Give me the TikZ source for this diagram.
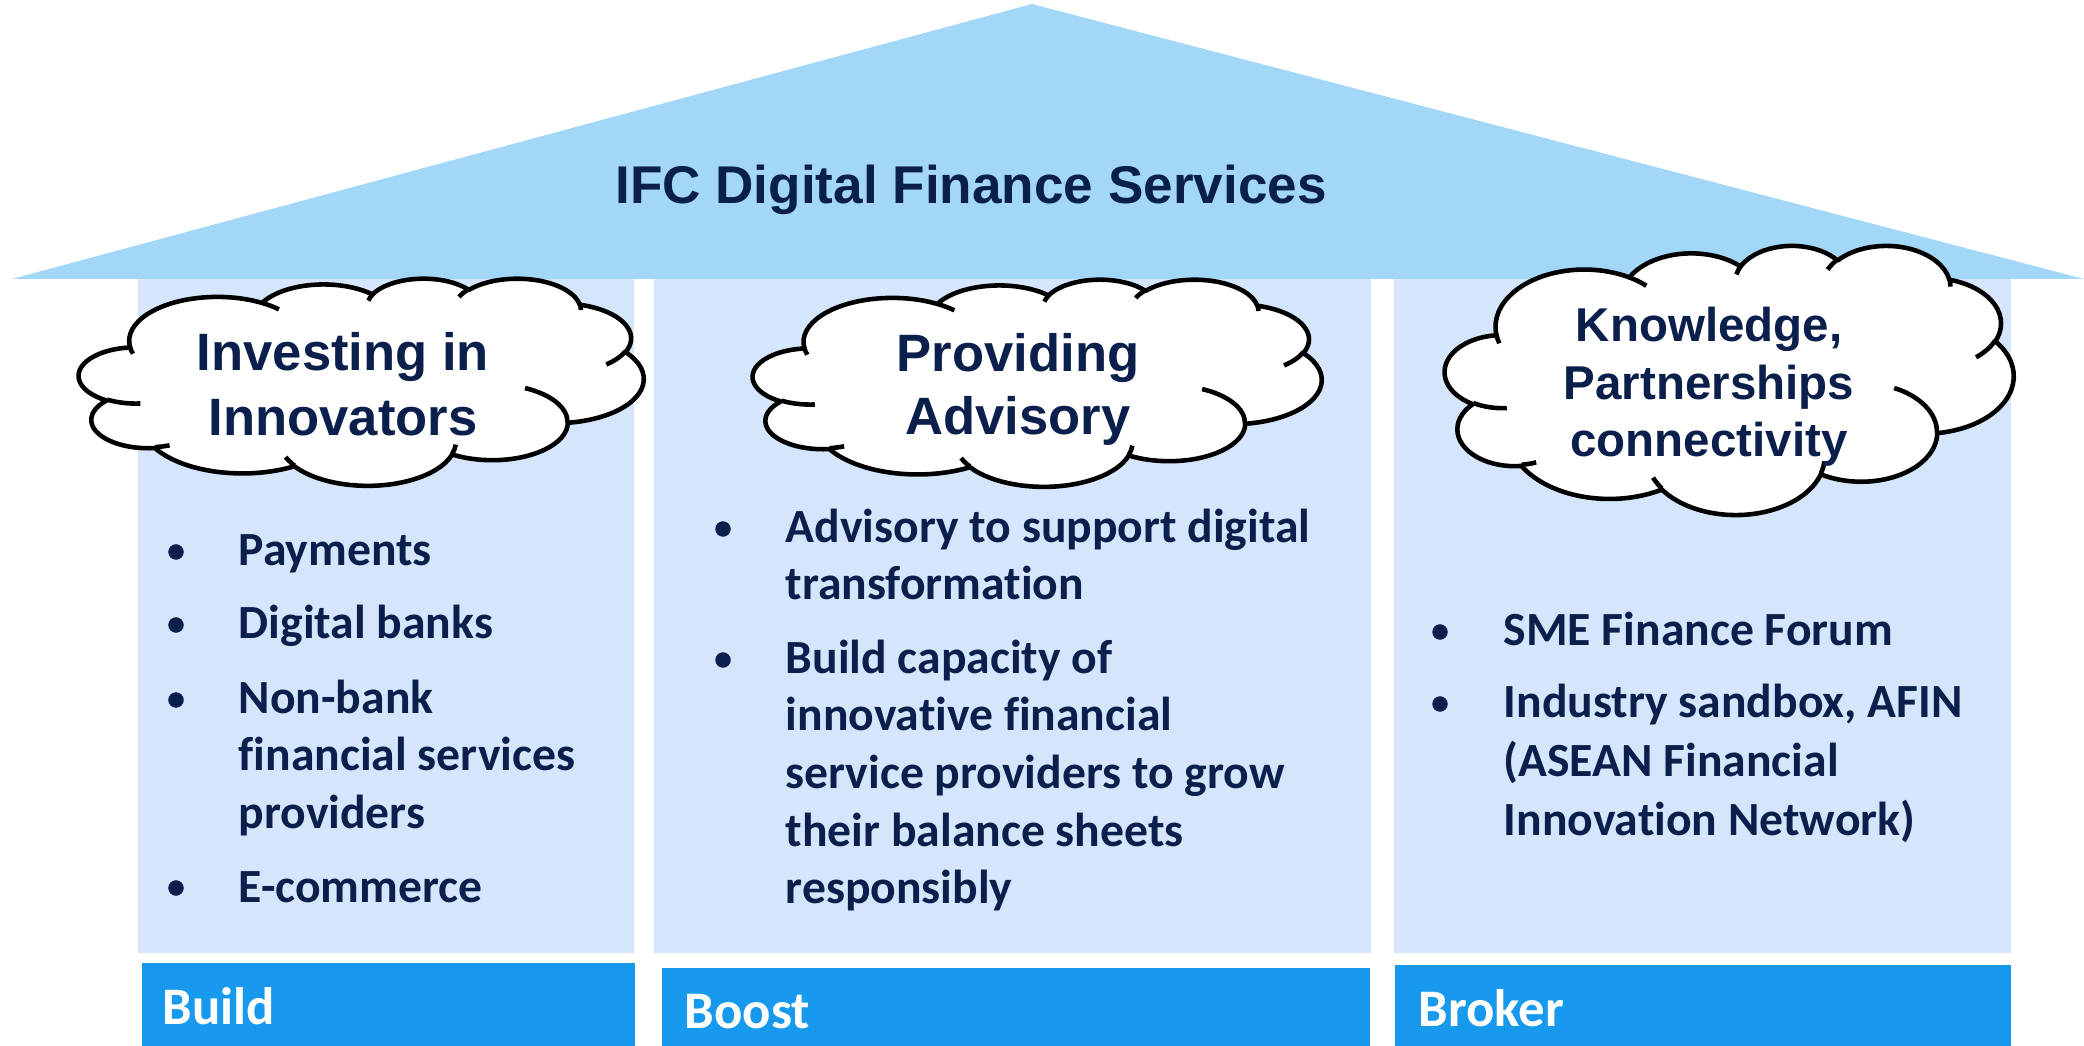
\documentclass[tikz,border=0pt]{standalone}
\usepackage{fontspec}
\setmainfont{Carlito}[Ligatures=NoCommon]
\newfontfamily\arialfont{Liberation Sans}
\definecolor{roofblue}{RGB}{163,215,247}
\definecolor{colblue}{RGB}{213,230,252}
\definecolor{barblue}{RGB}{23,153,238}
\definecolor{navy}{RGB}{10,31,75}
% PowerPoint-style cloud arc: wR hR stAng swAng (visual angles, degrees)
\newcommand\carc[4]{arc[x radius=#1, y radius=#2, start angle={atan2((#1)*sin(#3),(#2)*cos(#3))}, delta angle={mod(atan2((#1)*sin((#3)+(#4)),(#2)*cos((#3)+(#4)))-atan2((#1)*sin(#3),(#2)*cos(#3))+720,360)}]}
\newcommand\cloudpath{(39.00,143.70)
 \carc{67.53}{91.90}{-190.4875}{123.7805}
 \carc{53.33}{72.67}{-144.1024}{89.9452}
 \carc{43.65}{59.45}{-145.8079}{99.7230}
 \carc{48.57}{65.95}{-130.9861}{117.2417}
 \carc{53.33}{72.73}{-78.7089}{109.0269}
 \carc{67.75}{92.20}{-46.2673}{130.2690}
 \carc{57.85}{78.67}{0.6250}{114.0333}
 \carc{67.52}{92.15}{22.4516}{115.1726}
 \carc{77.20}{105.43}{66.2426}{75.7110}
 \carc{43.60}{59.18}{-274.9421}{146.7356}
 \carc{43.45}{59.45}{-246.8285}{152.5189} -- cycle}
\newcommand\cloudinner{(46.93,261.77) \carc{43.45}{59.45}{86.742}{26.4295}
 (69.28,348.99) \carc{43.60}{59.18}{73.6105}{11.4475}
 (164.78,390.90) \carc{67.52}{92.15}{137.6242}{14.0811}
 (288.27,347.51) \carc{67.52}{92.15}{6.4533}{15.9984}
 (341.29,229.54) \carc{57.85}{78.67}{-70.2924}{70.9174}
 (417.98,153.54) \carc{53.33}{72.73}{30.3180}{27.7515}
 (383.24,54.26) \carc{48.57}{65.95}{-13.7443}{14.8589}
 (290.78,39.52) \carc{48.57}{65.95}{-149.1815}{18.1954}
 (221.41,47.20) \carc{43.65}{59.45}{-163.4943}{17.6864}
 (140.00,51.92) \carc{67.53}{91.90}{-66.7070}{12.3194}
 (41.27,157.89) \carc{67.53}{91.90}{157.6544}{11.8582}}
\begin{document}
\begin{tikzpicture}[x=0.01cm,y=-0.01cm,
  roof/.style={fill=roofblue},
  col/.style={fill=colblue},
  bar/.style={fill=barblue},
  cloudline/.style={draw=black,line width=1.3pt,line join=round,fill=white},
  cloudarcs/.style={draw=black,line width=1.3pt},
  title/.style={inner sep=0,anchor=base,text=navy,font=\arialfont\bfseries\fontsize{15.1}{18}\selectfont},
  cloudtxt/.style={inner sep=0,anchor=base,text=navy,font=\arialfont\bfseries\fontsize{14.95}{18}\selectfont},
  cloudtxtsm/.style={inner sep=0,anchor=base,text=navy,font=\arialfont\bfseries\fontsize{13.5}{16}\selectfont},
  bt/.style={inner sep=0,anchor=base west,text=navy,font=\bfseries\fontsize{13.55}{16}\selectfont},
  dot/.style={circle,fill=navy,inner sep=0,minimum size=0.155cm},
  bartxt/.style={inner sep=0,anchor=base west,text=white,font=\bfseries\fontsize{15}{18}\selectfont}]
\useasboundingbox (0,0) rectangle (2084,1046);
% columns
\fill[col] (138,279) rectangle (634,953);
\fill[col] (654,279) rectangle (1371,953);
\fill[col] (1394,279) rectangle (2011,953);
% roof
\fill[roof] (12,279) -- (1032,4) -- (2084,279) -- cycle;
% bottom bars
\fill[bar] (142,963) rectangle (635,1046);
\fill[bar] (662,968) rectangle (1370,1046);
\fill[bar] (1395,965) rectangle (2011,1046);
% clouds
\begin{scope}[shift={(79,278)},x=0.013056cm,y=-0.0047917cm]
 \path[cloudline] \cloudpath;
 \path[cloudarcs] \cloudinner;
\end{scope}
\begin{scope}[shift={(753,279)},x=0.013148cm,y=-0.0047917cm]
 \path[cloudline] \cloudpath;
 \path[cloudarcs] \cloudinner;
\end{scope}
\begin{scope}[shift={(1445,245)},x=0.013148cm,y=-0.0062269cm]
 \path[cloudline] \cloudpath;
 \path[cloudarcs] \cloudinner;
\end{scope}
% title
\node[title] (ttl) at (971,204) {IFC Digital Finance Services};
% cloud texts
\node[cloudtxt] (c1a) at (343,371) {Investing in};
\node[cloudtxt] (c1b) at (343,436) {Innovators};
\node[cloudtxt] (c2a) at (1018,372) {Providing};
\node[cloudtxt] (c2b) at (1018,435) {Advisory};
\node[cloudtxtsm] (c3a) at (1709,342) {Knowledge,};
\node[cloudtxtsm] (c3b) at (1709,400) {Partnerships};
\node[cloudtxtsm] (c3c) at (1709,457) {connectivity};
% column 1 bullets
\node[dot] (d11) at (176,552) {};
\node[bt] (t11) at (238,566) {Payments};
\node[dot] (d12) at (176,625) {};
\node[bt] (t12) at (238,639) {Digital banks};
\node[dot] (d13) at (176,700) {};
\node[bt] (t13) at (238,714) {Non-bank};
\node[bt] (t13b) at (238,771) {financial services};
\node[bt] (t13c) at (238,828) {providers};
\node[dot] (d14) at (176,888) {};
\node[bt] (t14) at (238,902) {E-commerce};
% column 2 bullets
\node[dot] (d21) at (723,529) {};
\node[bt] (t21) at (785,543) {Advisory to support digital};
\node[bt] (t21b) at (785,600) {transformation};
\node[dot] (d22) at (723,660) {};
\node[bt] (t22) at (785,674) {Build capacity of};
\node[bt] (t22b) at (785,731) {innovative financial};
\node[bt] (t22c) at (785,788) {service providers to grow};
\node[bt] (t22d) at (785,846) {their balance sheets};
\node[bt] (t22e) at (785,903) {responsibly};
% column 3 bullets
\node[dot] (d31) at (1440,632) {};
\node[bt] (t31) at (1503,646) {SME Finance Forum};
\node[dot] (d32) at (1440,704) {};
\node[bt] (t32) at (1503,718) {Industry sandbox, AFIN};
\node[bt] (t32b) at (1503,777) {(ASEAN Financial};
\node[bt] (t32c) at (1503,835) {Innovation Network)};
% bar labels
\node[bartxt] (l1) at (162,1024) {Build};
\node[bartxt] (l2) at (684,1028) {Boost};
\node[bartxt] (l3) at (1418,1026) {Broker};
\end{tikzpicture}
\end{document}
